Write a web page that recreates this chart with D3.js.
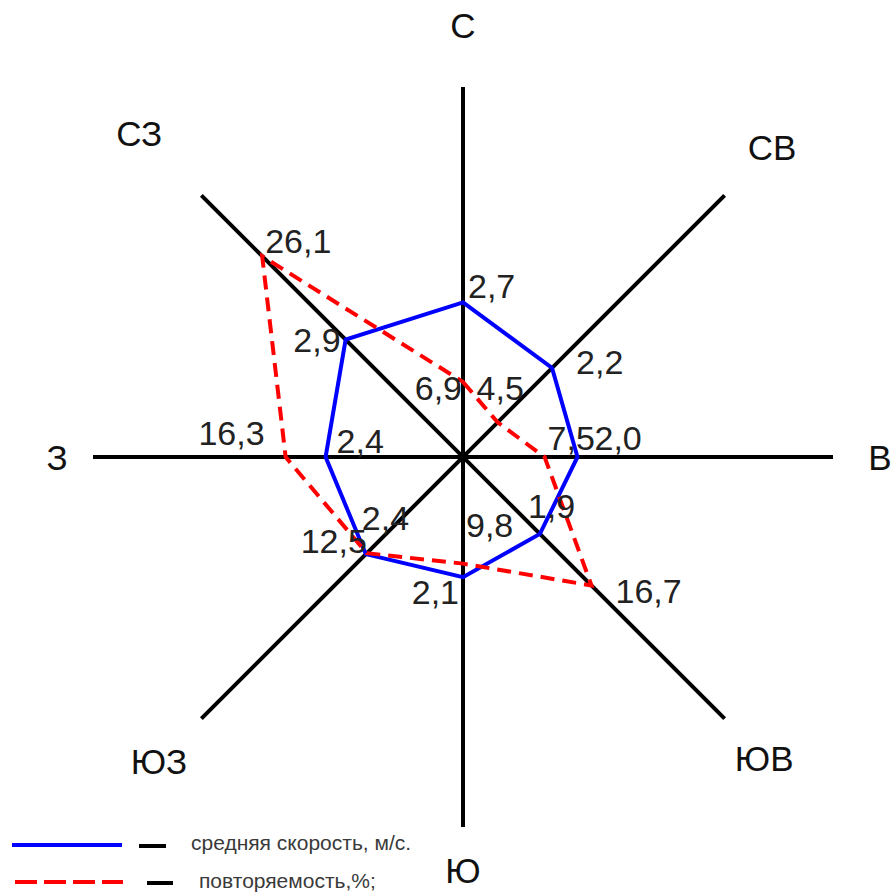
<!DOCTYPE html>
<html>
<head>
<meta charset="utf-8">
<script src="https://cdn.jsdelivr.net/npm/d3@7"></script>
<style>
    body { margin: 0; background: #fff; }
    text { font-family: "Liberation Sans", Arial, sans-serif; }
</style>
</head>
<body>
<div id="rose"></div>
<script>
// wind directions, clockwise from north
const directions = ["С", "СВ", "В", "ЮВ", "Ю", "ЮЗ", "З", "СЗ"];
// average wind speed, m/s
const speedValues = [2.7, 2.2, 2.0, 1.9, 2.1, 2.4, 2.4, 2.9];
// frequency of direction, %
const freqValues = [6.9, 4.5, 7.5, 16.7, 9.8, 12.5, 16.3, 26.1];
const legendLabels = ["средняя скорость, м/с.", "повторяемость,%;"];

const layout = {
    width: 894,
    height: 894,
    cx: 463,
    cy: 457,
    axisRadius: 370,
    speedRadius: 166,
    freqRadius: 284
};

// placement of direction names and value labels (layout only)
const dirLabelRadius = [432, 437, 417, 426, 413, 430, 406, 458];
const speedLabelPos = [
    {dx: 5, dy: -4, anchor: "start"},
    {dx: 24, dy: 6, anchor: "start"},
    {dx: 17, dy: -7, anchor: "start"},
    {dx: -12, dy: -16, anchor: "start"},
    {dx: -4, dy: 27, anchor: "end"},
    {dx: -4, dy: -24, anchor: "start"},
    {dx: 11, dy: -4, anchor: "start"},
    {dx: -5, dy: 12, anchor: "end"}
];
const freqLabelPos = [
    {dx: -1, dy: 18, anchor: "end"},
    {dx: -21, dy: -22, anchor: "start"},
    {dx: 3, dy: -7, anchor: "start"},
    {dx: 24, dy: 18, anchor: "start"},
    {dx: 3, dy: -27, anchor: "start"},
    {dx: 0, dy: 0, anchor: "end"},
    {dx: -21, dy: -12, anchor: "end"},
    {dx: 3, dy: -3, anchor: "start"}
];

function polar(angle, r) {
    return [layout.cx + r * Math.sin(angle), layout.cy - r * Math.cos(angle)];
}

function drawRose() {
    const svg = d3.select("#rose").append("svg")
        .attr("width", layout.width)
        .attr("height", layout.height);

    const step = 2 * Math.PI / directions.length;
    const angleOf = d => directions.indexOf(d) * step;

    const rSpeed = d3.scaleLinear()
        .domain([0, d3.max(speedValues)])
        .range([0, layout.speedRadius]);

    const rFreq = d3.scaleLinear()
        .domain([0, d3.max(freqValues)])
        .range([0, layout.freqRadius]);

    // axes
    svg.append("g")
        .selectAll("line")
        .data(directions.slice(0, 4))
        .join("line")
        .attr("x1", d => polar(angleOf(d), layout.axisRadius)[0])
        .attr("y1", d => polar(angleOf(d), layout.axisRadius)[1])
        .attr("x2", d => polar(angleOf(d) + Math.PI, layout.axisRadius)[0])
        .attr("y2", d => polar(angleOf(d) + Math.PI, layout.axisRadius)[1])
        .attr("stroke", "#000")
        .attr("stroke-width", 4);

    svg.append("circle")
        .attr("cx", layout.cx)
        .attr("cy", layout.cy)
        .attr("r", 4)
        .attr("fill", "#000");

    // direction names
    svg.append("g")
        .selectAll("text")
        .data(directions)
        .join("text")
        .attr("x", (d, i) => polar(angleOf(d), dirLabelRadius[i])[0])
        .attr("y", (d, i) => polar(angleOf(d), dirLabelRadius[i])[1])
        .attr("text-anchor", "middle")
        .attr("dominant-baseline", "central")
        .attr("font-size", 35)
        .attr("fill", "#111")
        .text(d => d);

    const radial = d3.lineRadial()
        .angle((d, i) => i * step)
        .curve(d3.curveLinearClosed);

    // speed polygon
    svg.append("path")
        .attr("transform", `translate(${layout.cx},${layout.cy})`)
        .attr("d", radial.radius(d => rSpeed(d))(speedValues))
        .attr("fill", "none")
        .attr("stroke", "#0000ff")
        .attr("stroke-width", 4)
        .attr("stroke-linejoin", "miter");

    // frequency polygon
    svg.append("path")
        .attr("transform", `translate(${layout.cx},${layout.cy})`)
        .attr("d", radial.radius(d => rFreq(d))(freqValues))
        .attr("fill", "none")
        .attr("stroke", "#ff0000")
        .attr("stroke-width", 4)
        .attr("stroke-dasharray", "14,8");

    const fmt = v => d3.format(".1f")(v).replace(".", ",");

    function valueLabels(values, scale, pos) {
        svg.append("g")
            .selectAll("text")
            .data(values)
            .join("text")
            .attr("x", (d, i) => polar(i * step, scale(d))[0] + pos[i].dx)
            .attr("y", (d, i) => polar(i * step, scale(d))[1] + pos[i].dy)
            .attr("text-anchor", (d, i) => pos[i].anchor)
            .attr("font-size", 34)
            .attr("fill", "#222")
            .text(d => fmt(d));
    }

    valueLabels(speedValues, rSpeed, speedLabelPos);
    valueLabels(freqValues, rFreq, freqLabelPos);

    // legend
    const legend = svg.append("g");
    legend.append("line")
        .attr("x1", 12).attr("x2", 122)
        .attr("y1", 845).attr("y2", 845)
        .attr("stroke", "#0000ff").attr("stroke-width", 4);
    legend.append("line")
        .attr("x1", 139).attr("x2", 166)
        .attr("y1", 846).attr("y2", 846)
        .attr("stroke", "#000").attr("stroke-width", 4);
    legend.append("line")
        .attr("x1", 15).attr("x2", 123)
        .attr("y1", 882).attr("y2", 882)
        .attr("stroke", "#ff0000").attr("stroke-width", 4)
        .attr("stroke-dasharray", "22,7");
    legend.append("line")
        .attr("x1", 147).attr("x2", 173)
        .attr("y1", 883).attr("y2", 883)
        .attr("stroke", "#000").attr("stroke-width", 4);

    legend.selectAll("text")
        .data(legendLabels)
        .join("text")
        .attr("x", (d, i) => i === 0 ? 191 : 199)
        .attr("y", (d, i) => i === 0 ? 850 : 888)
        .attr("font-size", 21)
        .attr("fill", "#3a3a3a")
        .text(d => d);
}

drawRose();
</script>
</body>
</html>
